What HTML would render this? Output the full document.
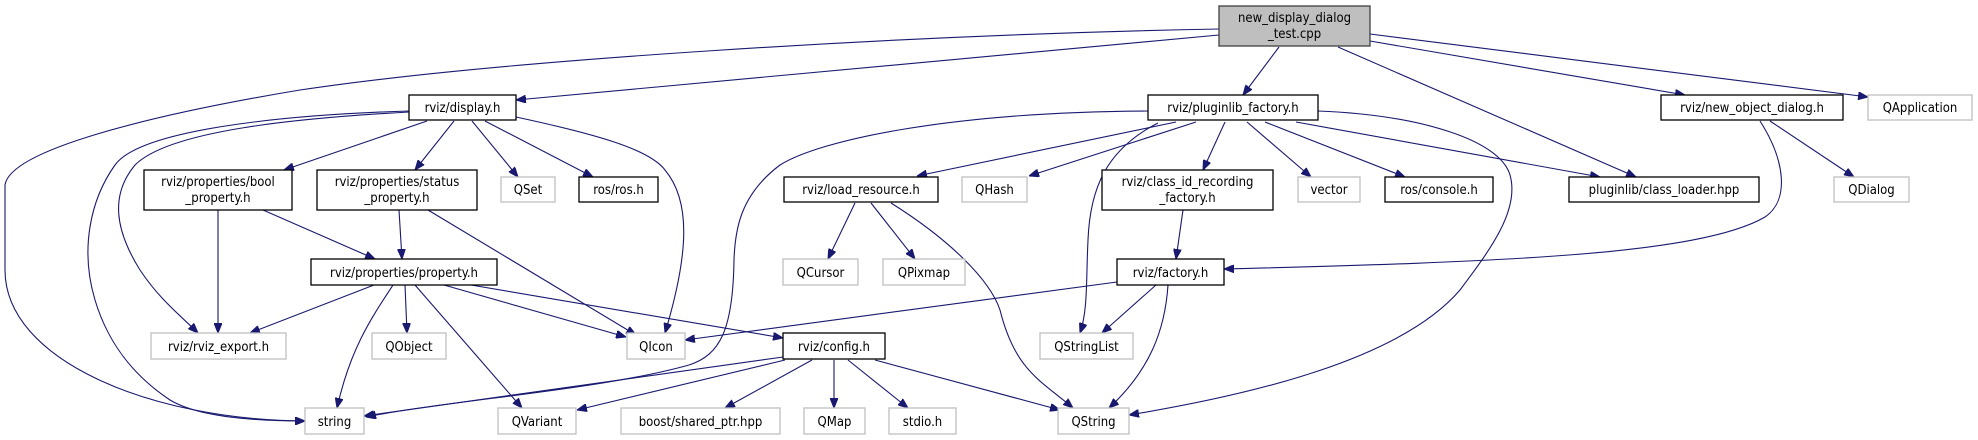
<!DOCTYPE html>
<html><head><meta charset="utf-8"><style>
html,body{margin:0;padding:0;background:#fff;}
svg{display:block;}
text{font-family:"DejaVu Sans Condensed","DejaVu Sans","Liberation Sans",sans-serif;font-size:13px;fill:#000;}
.b{fill:#fff;stroke:#000;stroke-width:1.3;}
.g{fill:#fff;stroke:#bfbfbf;stroke-width:1.3;}
.r{fill:#bfbfbf;stroke:#404040;stroke-width:1.3;}
path.e{fill:none;stroke:#191970;stroke-width:1.1;}
</style></head><body>
<svg width="1978" height="440" viewBox="0 0 1978 440" xmlns="http://www.w3.org/2000/svg">
<defs><marker id="a" viewBox="0 0 10 8" refX="10" refY="4" markerWidth="10" markerHeight="8" markerUnits="userSpaceOnUse" orient="auto"><path d="M0,0 L10,4 L0,8 z" fill="#191970" stroke="#191970"/></marker></defs>
<g>
<!-- root edges -->
<path class="e" marker-end="url(#a)" d="M1219,29 C900,35 500,60 300,90 C150,115 10,150 5,185 L5,270 C5,360 150,420 305,421"/>
<path class="e" marker-end="url(#a)" d="M1219,35 L516,100"/>
<path class="e" marker-end="url(#a)" d="M1279,47 L1243,95"/>
<path class="e" marker-end="url(#a)" d="M1338,47 L1636,177"/>
<path class="e" marker-end="url(#a)" d="M1370,41 L1685,95"/>
<path class="e" marker-end="url(#a)" d="M1370,34 L1868,97"/>
<!-- display.h -->
<path class="e" marker-end="url(#a)" d="M427,121 L284,170"/>
<path class="e" marker-end="url(#a)" d="M454,121 L415,170"/>
<path class="e" marker-end="url(#a)" d="M472,121 L518,177"/>
<path class="e" marker-end="url(#a)" d="M485,121 L593,177"/>
<path class="e" marker-end="url(#a)" d="M516,117 C600,135 650,150 665,170 C690,200 690,250 665,333"/>
<path class="e" marker-end="url(#a)" d="M409,112 C300,118 170,130 135,165 C110,195 115,230 140,270 C160,300 180,315 198,333"/>
<path class="e" marker-end="url(#a)" d="M409,111 C280,115 140,130 115,165 C90,200 80,250 95,300 C110,350 140,380 170,400 C200,418 260,421 305,421"/>
<!-- bool / status -->
<path class="e" marker-end="url(#a)" d="M218,210 L218,333"/>
<path class="e" marker-end="url(#a)" d="M263,210 L375,259"/>
<path class="e" marker-end="url(#a)" d="M399,210 L402,259"/>
<path class="e" marker-end="url(#a)" d="M428,210 L636,335"/>
<!-- property.h -->
<path class="e" marker-end="url(#a)" d="M374,285 L250,333"/>
<path class="e" marker-end="url(#a)" d="M405,285 L407,333"/>
<path class="e" marker-end="url(#a)" d="M444,285 L626,337"/>
<path class="e" marker-end="url(#a)" d="M471,285 L783,338"/>
<path class="e" marker-end="url(#a)" d="M415,285 L522,408"/>
<path class="e" marker-end="url(#a)" d="M393,285 C370,320 350,350 337,408"/>
<!-- config.h -->
<path class="e" marker-end="url(#a)" d="M783,357 L364,416"/>
<path class="e" marker-end="url(#a)" d="M785,360 L577,410"/>
<path class="e" marker-end="url(#a)" d="M812,360 L725,408"/>
<path class="e" marker-end="url(#a)" d="M834,360 L834,408"/>
<path class="e" marker-end="url(#a)" d="M848,360 L908,408"/>
<path class="e" marker-end="url(#a)" d="M875,360 L1060,410"/>
<!-- load_resource -->
<path class="e" marker-end="url(#a)" d="M855,203 L828,259"/>
<path class="e" marker-end="url(#a)" d="M871,203 L915,259"/>
<path class="e" marker-end="url(#a)" d="M891,203 C950,240 990,280 1000,310 C1015,370 1040,380 1073,408"/>
<!-- pluginlib_factory -->
<path class="e" marker-end="url(#a)" d="M1148,111 C950,112 820,140 780,165 C740,195 735,230 734,260 C733,330 720,355 689,365 C600,390 450,400 366,417"/>
<path class="e" marker-end="url(#a)" d="M1176,122 L917,176"/>
<path class="e" marker-end="url(#a)" d="M1196,122 L1029,176"/>
<path class="e" marker-end="url(#a)" d="M1158,123 C1105,150 1090,190 1088,240 C1086,280 1088,310 1080,333"/>
<path class="e" marker-end="url(#a)" d="M1225,122 L1203,170"/>
<path class="e" marker-end="url(#a)" d="M1247,122 L1311,177"/>
<path class="e" marker-end="url(#a)" d="M1265,122 L1405,177"/>
<path class="e" marker-end="url(#a)" d="M1296,122 L1600,177"/>
<path class="e" marker-end="url(#a)" d="M1318,111 C1420,115 1500,140 1510,175 C1520,210 1490,250 1460,290 C1400,360 1250,395 1129,415"/>
<!-- class_id / factory -->
<path class="e" marker-end="url(#a)" d="M1183,210 L1176,259"/>
<path class="e" marker-end="url(#a)" d="M1117,282 L685,340"/>
<path class="e" marker-end="url(#a)" d="M1156,285 L1102,333"/>
<path class="e" marker-end="url(#a)" d="M1168,285 C1165,330 1150,370 1109,408"/>
<!-- new_object_dialog -->
<path class="e" marker-end="url(#a)" d="M1760,121 C1785,160 1790,200 1765,217 C1700,255 1500,262 1224,269"/>
<path class="e" marker-end="url(#a)" d="M1770,121 L1854,177"/>
</g>
<g>
<rect class="r" x="1219" y="6" width="151" height="40"/>
<text x="1294.5" y="22" text-anchor="middle">new_display_dialog</text>
<text x="1294.5" y="38" text-anchor="middle">_test.cpp</text>

<rect class="b" x="409" y="95" width="107" height="25"/><text x="462.5" y="112" text-anchor="middle">rviz/display.h</text>
<rect class="b" x="1148" y="95" width="170" height="25"/><text x="1233" y="112" text-anchor="middle">rviz/pluginlib_factory.h</text>
<rect class="b" x="1661" y="95" width="182" height="25"/><text x="1752" y="112" text-anchor="middle">rviz/new_object_dialog.h</text>
<rect class="g" x="1868" y="95" width="104" height="25"/><text x="1920" y="112" text-anchor="middle">QApplication</text>

<rect class="b" x="144" y="170" width="148" height="40"/><text x="218" y="186" text-anchor="middle">rviz/properties/bool</text><text x="218" y="202" text-anchor="middle">_property.h</text>
<rect class="b" x="317" y="170" width="160" height="40"/><text x="397" y="186" text-anchor="middle">rviz/properties/status</text><text x="397" y="202" text-anchor="middle">_property.h</text>
<rect class="g" x="501" y="177" width="54" height="25"/><text x="528" y="194" text-anchor="middle">QSet</text>
<rect class="b" x="579" y="177" width="79" height="25"/><text x="618.5" y="194" text-anchor="middle">ros/ros.h</text>
<rect class="b" x="784" y="177" width="154" height="25"/><text x="861" y="194" text-anchor="middle">rviz/load_resource.h</text>
<rect class="g" x="962" y="177" width="65" height="25"/><text x="994.5" y="194" text-anchor="middle">QHash</text>
<rect class="b" x="1102" y="170" width="171" height="40"/><text x="1187.5" y="186" text-anchor="middle">rviz/class_id_recording</text><text x="1187.5" y="202" text-anchor="middle">_factory.h</text>
<rect class="g" x="1298" y="177" width="62" height="25"/><text x="1329" y="194" text-anchor="middle">vector</text>
<rect class="b" x="1385" y="177" width="108" height="25"/><text x="1439" y="194" text-anchor="middle">ros/console.h</text>
<rect class="b" x="1569" y="177" width="190" height="25"/><text x="1664" y="194" text-anchor="middle">pluginlib/class_loader.hpp</text>
<rect class="g" x="1834" y="177" width="75" height="25"/><text x="1871.5" y="194" text-anchor="middle">QDialog</text>

<rect class="b" x="311" y="259" width="186" height="26"/><text x="404" y="277" text-anchor="middle">rviz/properties/property.h</text>
<rect class="g" x="783" y="259" width="75" height="26"/><text x="820.5" y="277" text-anchor="middle">QCursor</text>
<rect class="g" x="883" y="259" width="82" height="26"/><text x="924" y="277" text-anchor="middle">QPixmap</text>
<rect class="b" x="1117" y="259" width="107" height="26"/><text x="1170.5" y="277" text-anchor="middle">rviz/factory.h</text>

<rect class="g" x="151" y="333" width="135" height="26"/><text x="218.5" y="351" text-anchor="middle">rviz/rviz_export.h</text>
<rect class="g" x="372" y="333" width="74" height="26"/><text x="409" y="351" text-anchor="middle">QObject</text>
<rect class="g" x="627" y="333" width="58" height="26"/><text x="656" y="351" text-anchor="middle">QIcon</text>
<rect class="b" x="783" y="333" width="102" height="26"/><text x="834" y="351" text-anchor="middle">rviz/config.h</text>
<rect class="g" x="1040" y="333" width="93" height="26"/><text x="1086.5" y="351" text-anchor="middle">QStringList</text>

<rect class="g" x="305" y="408" width="59" height="26"/><text x="334.5" y="426" text-anchor="middle">string</text>
<rect class="g" x="498" y="408" width="78" height="26"/><text x="537" y="426" text-anchor="middle">QVariant</text>
<rect class="g" x="621" y="408" width="159" height="26"/><text x="700.5" y="426" text-anchor="middle">boost/shared_ptr.hpp</text>
<rect class="g" x="804" y="408" width="61" height="26"/><text x="834.5" y="426" text-anchor="middle">QMap</text>
<rect class="g" x="889" y="408" width="67" height="26"/><text x="922.5" y="426" text-anchor="middle">stdio.h</text>
<rect class="g" x="1058" y="408" width="71" height="26"/><text x="1093.5" y="426" text-anchor="middle">QString</text>
</g>
</svg>
</body></html>
